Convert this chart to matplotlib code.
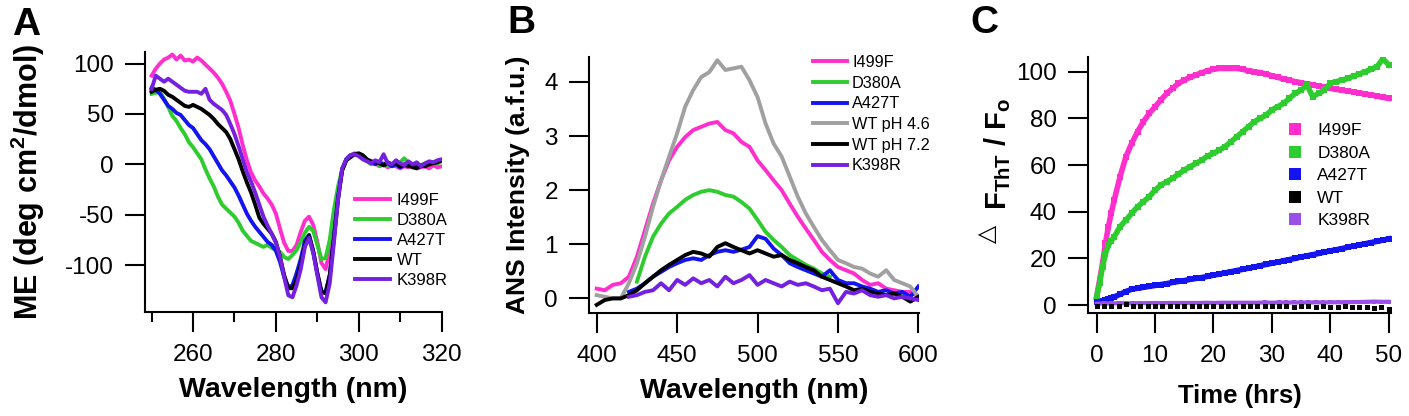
import numpy as np
import matplotlib
matplotlib.use('Agg')
import matplotlib.pyplot as plt
from matplotlib.lines import Line2D

plt.rcParams['font.family'] = ['Liberation Sans', 'DejaVu Sans']
plt.rcParams['mathtext.fontset'] = 'custom'
plt.rcParams['mathtext.rm'] = 'Liberation Sans:bold'
plt.rcParams['mathtext.it'] = 'Liberation Sans:bold'
plt.rcParams['mathtext.bf'] = 'Liberation Sans:bold'
plt.rcParams['axes.unicode_minus'] = False

# ---- panel A: CD spectra ----
cd_wl = np.arange(250, 321)
cd_i499f = [88, 95, 100, 104, 106, 109, 104, 108, 103, 104,
            102, 106, 103, 99, 95, 91, 86, 80, 72, 63,
            50, 36, 19, 4, -8, -16, -22, -29, -34, -40,
            -49, -64, -78, -86, -86, -80, -67, -56, -52, -60,
            -77, -98, -104, -86, -55, -28, -6, 5, 9, 11,
            9, 6, 4, 2, 1, -2, 0, -3, -1, -2,
            -4, -2, -3, -1, -4, -3, -2, -4, -1, -3, -2]
cd_d380a = [70, 71, 72, 65, 57, 48, 43, 36, 30, 22,
            17, 11, 5, -5, -14, -22, -32, -40, -44, -48,
            -52, -58, -66, -71, -76, -78, -80, -82, -80, -83,
            -85, -87, -92, -94, -90, -85, -77, -68, -62, -66,
            -80, -94, -93, -75, -45, -22, -5, 5, 9, 10,
            9, 5, 3, 0, 2, -1, 1, -2, 0, -1,
            2, 6, 1, -2, 0, -1, 1, 0, 2, 1, 3]
cd_a427t = [76, 74, 70, 64, 58, 55, 51, 49, 44, 39,
            36, 30, 24, 20, 15, 8, 1, -6, -11, -17,
            -23, -31, -40, -49, -56, -62, -67, -72, -77, -80,
            -86, -97, -112, -122, -120, -108, -94, -76, -70, -86,
            -108, -126, -127, -110, -72, -32, -5, 5, 9, 10,
            9, 7, 4, 2, 0, 3, -1, 1, -2, 0,
            -3, -1, -2, 0, -3, -2, 0, 1, 2, 3, 4]
cd_wt = [72, 74, 75, 73, 69, 67, 64, 61, 58, 57,
         59, 57, 55, 52, 49, 45, 40, 36, 32, 25,
         15, 5, -7, -18, -28, -40, -53, -59, -64, -69,
         -77, -92, -110, -123, -123, -115, -100, -80, -71, -86,
         -108, -127, -128, -110, -74, -35, -6, 4, 7, 10,
         11, 9, 5, 3, 2, 1, -1, 2, 0, 1,
         -2, 0, -1, -3, -4, -1, -2, 0, 1, 2, 4]
cd_k398r = [75, 88, 85, 82, 85, 82, 79, 76, 73, 72,
            72, 72, 70, 75, 64, 60, 57, 54, 49, 40,
            30, 18, 5, -8, -17, -28, -40, -52, -61, -69,
            -78, -92, -112, -130, -132, -120, -104, -82, -73, -88,
            -110, -132, -137, -118, -78, -35, -4, 5, 9, 10,
            8, 5, 3, 1, 4, 2, 10, 1, 0, 4,
            1, -1, 3, 0, 2, -2, 1, 3, 2, 4, 5]

# ---- panel B: ANS fluorescence ----
ans_wl = np.arange(400, 601, 5)
ans_wl_late = np.arange(420, 601, 5)
ans_wl_d380a = np.arange(425, 546, 5)
ans_i499f = [0.18, 0.15, 0.25, 0.28, 0.40, 0.77, 1.26, 1.75, 2.18, 2.55,
             2.80, 2.98, 3.11, 3.17, 3.23, 3.26, 3.11, 3.05, 2.89, 2.80,
             2.55, 2.37, 2.18, 2.00, 1.75, 1.51, 1.29, 1.08, 0.86, 0.71,
             0.58, 0.52, 0.46, 0.34, 0.25, 0.28, 0.18, 0.15, 0.12, 0.12, 0.03]
ans_d380a = [0.31, 0.77, 1.14, 1.38, 1.57, 1.69, 1.82, 1.91, 1.97, 2.00,
             1.97, 1.91, 1.88, 1.78, 1.66, 1.45, 1.23, 1.08, 0.95, 0.80,
             0.71, 0.62, 0.55, 0.46, 0.40]
ans_a427t = [0.12, 0.18, 0.28, 0.40, 0.49, 0.58, 0.65, 0.71, 0.74, 0.71,
             0.80, 0.86, 0.89, 0.86, 0.90, 0.95, 1.15, 1.10, 0.92, 0.80,
             0.65, 0.58, 0.52, 0.46, 0.40, 0.52, 0.34, 0.28, 0.28, 0.22,
             0.18, 0.12, 0.15, 0.09, 0.12, 0.03, 0.22]
ans_wt46 = [0.06, 0.03, 0.00, 0.00, 0.28, 0.65, 1.14, 1.69, 2.18, 2.62,
            3.05, 3.54, 3.85, 4.09, 4.18, 4.40, 4.22, 4.25, 4.28, 4.03,
            3.72, 3.23, 2.86, 2.62, 2.25, 1.88, 1.57, 1.32, 1.08, 0.89,
            0.71, 0.65, 0.58, 0.55, 0.46, 0.40, 0.52, 0.34, 0.28, 0.22, 0.03]
ans_wt72 = [-0.12, -0.03, 0.00, 0.00, 0.06, 0.15, 0.28, 0.40, 0.52, 0.62,
            0.71, 0.80, 0.86, 0.83, 0.77, 0.95, 1.02, 0.95, 0.89, 0.83,
            0.89, 0.83, 0.77, 0.80, 0.71, 0.65, 0.58, 0.52, 0.40, 0.34,
            0.28, 0.22, 0.15, 0.18, 0.12, 0.09, 0.06, 0.09, 0.03, -0.06, 0.03]
ans_k398r = [0.03, 0.06, 0.12, 0.15, 0.28, 0.15, 0.34, 0.25, 0.37, 0.28,
             0.34, 0.22, 0.40, 0.28, 0.34, 0.43, 0.25, 0.34, 0.28, 0.22,
             0.31, 0.25, 0.28, 0.22, 0.15, 0.18, -0.09, 0.12, 0.09, 0.15,
             0.06, 0.03, 0.06, 0.00, 0.03, 0.00, -0.03]

# ---- panel C: ThT kinetics ----
tht_t = np.array([0, 0.5, 1, 1.5, 2, 2.5, 3] + list(range(4, 51)))
tht_t_slow = np.arange(0, 50.01, 1.25)
tht_i499f = [3.6, 10.7, 17.9, 26.4, 33.6, 39.5, 45, 55, 63.6, 69.3,
             74.3, 78.6, 82.1, 85, 87.9, 90.7, 92.9, 95, 96.4, 97.6,
             98.6, 99.6, 100.4, 101, 101.4, 101.4, 101.4, 101.4, 101, 100.4,
             100, 99.6, 99, 98.3, 97.6, 96.9, 96.4, 95.7, 95.3, 94.7,
             94.3, 93.9, 93.3, 92.9, 92.4, 92.1, 91.7, 91.3, 90.9, 90.4,
             90, 89.6, 89, 88.6]
tht_d380a = [3.6, 9.3, 16.4, 22, 25.7, 27.6, 29.3, 33.6, 36.4, 39.3,
             42.1, 44.3, 46.4, 49.3, 51.4, 52.9, 54.3, 56.1, 57.9, 59.3,
             60.7, 62.1, 63.9, 65, 66.4, 67.9, 70, 72.1, 74.3, 76.4,
             78.6, 80, 81.4, 83.6, 85, 86.4, 88.6, 90.7, 92.1, 94.3,
             89.3, 90.7, 92.1, 95, 95.7, 96.4, 97.1, 98.1, 99, 100,
             101, 102.1, 105.5, 103]
tht_a427t = [1.4, 1.5, 1.8, 2.1, 2.5, 3.0, 3.5, 4.6, 5.8, 6.8,
             7.2, 7.6, 8.0, 8.4, 8.8, 9.2, 9.7, 10.1, 10.5, 11.0,
             11.4, 11.8, 12.3, 12.8, 13.3, 13.8, 14.3, 14.8, 15.3, 15.8,
             16.3, 16.9, 17.4, 17.9, 18.4, 19.0, 19.5, 20.0, 20.6, 21.1,
             21.6, 22.1, 22.7, 23.2, 23.7, 24.2, 24.8, 25.3, 25.8, 26.3,
             26.8, 27.3, 27.8, 28.4]
tht_wt = [-0.3, -0.5, -0.4, -0.6, 0.3, -0.5, -0.4, -0.6, -0.5, -0.6,
          -0.4, -0.6, -0.5, -0.6, -0.5, -0.4, -0.6, -0.5, -0.6, -0.5,
          -0.6, -0.4, -0.6, -0.5, -0.6, -0.5, -0.6, -0.7, -0.5, -0.6,
          -0.7, -0.6, -0.8, -0.7, -0.6, -0.8, -0.9, -0.7, -1.3, -1.0, -1.5]
tht_k398r = [0.6, 0.7, 0.7, 0.8, 0.8, 0.8, 0.8, 0.8, 0.9, 0.8,
             0.9, 0.9, 0.9, 0.9, 0.9, 1.0, 0.9, 1.0, 1.0, 1.0,
             1.0, 1.0, 1.0, 1.1, 1.0, 1.1, 1.1, 1.1, 1.1, 1.1,
             1.2, 1.1, 1.2, 1.2, 1.2, 1.3, 1.3, 1.4, 1.5, 1.4, 1.4]

pink = '#FF2ECC'
green = '#2FCC2F'
blue = '#1414F0'
purple = '#7420E0'
light_purple = '#9A4FE6'
gray = '#A0A0A0'

W, H = 1409, 416
fig = plt.figure(figsize=(W / 100, H / 100), dpi=100)


def px_axes(left, top, right, bottom):
    ax = fig.add_axes([left / W, 1 - bottom / H, (right - left) / W, (bottom - top) / H])
    for side in ['top', 'right']:
        ax.spines[side].set_visible(False)
    for side in ['left', 'bottom']:
        ax.spines[side].set_linewidth(1.5)
    ax.tick_params(which='major', direction='out', length=14.5, width=1.5, labelsize=17.5)
    ax.tick_params(axis='x', which='major', pad=8.5)
    ax.tick_params(axis='y', which='major', pad=8)
    ax.tick_params(which='minor', direction='out', length=7, width=1.5)
    return ax


lw = 2.8

# A
ax_a = px_axes(145, 52, 442, 312)
ax_a.plot(cd_wl, cd_i499f, color=pink, lw=lw, label='I499F')
ax_a.plot(cd_wl, cd_d380a, color=green, lw=lw, label='D380A')
ax_a.plot(cd_wl, cd_a427t, color=blue, lw=lw, label='A427T')
ax_a.plot(cd_wl, cd_wt, color='black', lw=lw, label='WT')
ax_a.plot(cd_wl, cd_k398r, color=purple, lw=lw, label='K398R')
ax_a.set_xlim(248.4, 320.1)
ax_a.set_ylim(-146.6, 111.5)
ax_a.set_xticks([260, 280, 300, 320])
ax_a.set_xticks([250, 270, 290, 310], minor=True)
ax_a.set_yticks([-100, -50, 0, 50, 100])
ax_a.set_xlabel('Wavelength (nm)', fontsize=20.5, fontweight='bold', labelpad=8)
ax_a.set_ylabel('ME (deg cm$^2$/dmol)', fontsize=22, fontweight='bold')
ax_a.yaxis.set_label_coords(-0.33, 0.5)
ax_a.legend(loc='upper left', bbox_to_anchor=(0.707, 0.459), frameon=False, fontsize=12,
            handlelength=2.1, handletextpad=0.4, labelspacing=0.31, borderpad=0, borderaxespad=0)

# B
ax_b = px_axes(589, 57, 919, 313)
ax_b.plot(ans_wl, ans_i499f, color=pink, lw=lw, label='I499F')
ax_b.plot(ans_wl_d380a, ans_d380a, color=green, lw=lw, label='D380A')
ax_b.plot(ans_wl_late, ans_a427t, color=blue, lw=lw, label='A427T')
ax_b.plot(ans_wl, ans_wt46, color=gray, lw=lw, label='WT pH 4.6')
ax_b.plot(ans_wl, ans_wt72, color='black', lw=lw, label='WT pH 7.2')
ax_b.plot(ans_wl_late, ans_k398r, color=purple, lw=lw, label='K398R')
ax_b.set_xlim(395.2, 600.4)
ax_b.set_ylim(-0.27, 4.46)
ax_b.set_xticks([400, 450, 500, 550, 600])
ax_b.set_yticks([0, 1, 2, 3, 4])
ax_b.set_xlabel('Wavelength (nm)', fontsize=20.5, fontweight='bold', labelpad=8)
ax_b.set_ylabel('ANS Intensity (a.f.u.)', fontsize=19, fontweight='bold')
ax_b.yaxis.set_label_coords(-0.179, 0.5)
ax_b.legend(loc='upper left', bbox_to_anchor=(0.679, 1.008), frameon=False, fontsize=11.7,
            handlelength=2.1, handletextpad=0.3, labelspacing=0.35, borderpad=0, borderaxespad=0)

# C
ax_c = px_axes(1088, 57, 1391, 313)
ax_c.plot(tht_t, tht_i499f, 's-', color=pink, ms=5, lw=4, mew=0)
ax_c.plot(tht_t, tht_d380a, 's-', color=green, ms=5, lw=4, mew=0)
ax_c.plot(tht_t, tht_a427t, 's-', color=blue, ms=5, lw=4, mew=0)
ax_c.plot(tht_t_slow, tht_k398r, 's-', color=light_purple, ms=3.5, lw=3, mew=0)
ax_c.plot(tht_t_slow, tht_wt, 's', color='black', ms=3.6, mew=0)
ax_c.set_xlim(-1.49, 50.4)
ax_c.set_ylim(-3.4, 106.3)
ax_c.set_xticks([0, 10, 20, 30, 40, 50])
ax_c.set_yticks([0, 20, 40, 60, 80, 100])
ax_c.set_xlabel('Time (hrs)', fontsize=18.5, fontweight='bold', labelpad=12)
ax_c.set_ylabel('F$_{ThT}$ / F$_o$', fontsize=21, fontweight='bold')
ax_c.yaxis.set_label_coords(-0.248, 0.621)
fig.text(987 / W, 1 - 234 / H, '△', family='DejaVu Sans', fontsize=17,
         rotation=90, ha='center', va='center')
c_names = ['I499F', 'D380A', 'A427T', 'WT', 'K398R']
c_colors = [pink, green, blue, 'black', light_purple]
c_handles = [Line2D([], [], marker='s', ls='none', color=c, ms=8, mew=0) for c in c_colors]
ax_c.legend(c_handles, c_names, loc='upper left', bbox_to_anchor=(0.654, 0.741), frameon=False,
            fontsize=12.5, handlelength=1, handletextpad=0.8, labelspacing=0.42,
            borderpad=0, borderaxespad=0)

# panel letters
fig.text(12 / W, 1 - 35 / H, 'A', fontsize=28, fontweight='bold', va='baseline')
fig.text(507 / W, 1 - 33 / H, 'B', fontsize=28, fontweight='bold', va='baseline')
fig.text(970 / W, 1 - 33 / H, 'C', fontsize=28, fontweight='bold', va='baseline')

fig.savefig('out.png', dpi=100)
